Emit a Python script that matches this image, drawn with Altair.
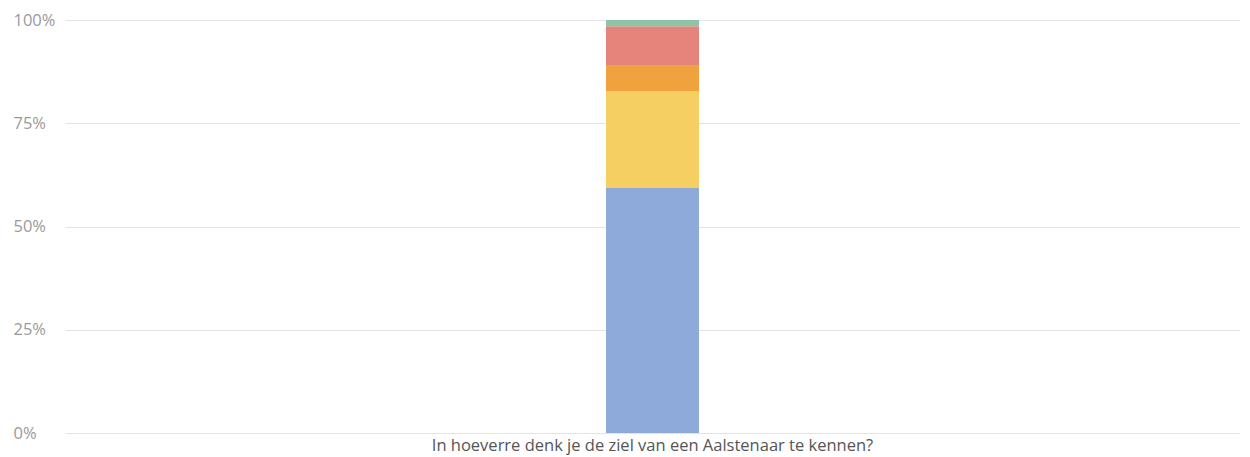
import altair as alt
import pandas as pd

question = "In hoeverre denk je de ziel van een Aalstenaar te kennen?"
answers = ["Antwoord 1", "Antwoord 2", "Antwoord 3", "Antwoord 4", "Antwoord 5"]
shares = [0.593, 0.235, 0.063, 0.094, 0.015]
colors = ["#8eaadb", "#f6cf63", "#f0a23f", "#e5847a", "#8fc3a5"]

df = pd.DataFrame({
    "vraag": [question] * len(answers),
    "antwoord": answers,
    "aandeel": shares,
    "volgorde": list(range(len(answers))),
})

chart = alt.Chart(df).mark_bar(size=93).encode(
    x=alt.X("vraag:N", title=None,
            axis=alt.Axis(labelAngle=0, ticks=False, domain=False, labelPadding=4, labelLimit=0,
                          labelColor="#555555", labelFontSize=16.5, labelFont="Open Sans")),
    y=alt.Y("aandeel:Q", stack="zero", title=None,
            scale=alt.Scale(domain=[0, 1], nice=False),
            axis=alt.Axis(values=[0, 0.25, 0.5, 0.75, 1], format=".0%", ticks=False, domain=False,
                          labelAlign="left", labelPadding=52, labelColor="#9a9a9a",
                          labelFontSize=16.5, labelFont="Open Sans", gridColor="#e3e3e3")),
    color=alt.Color("antwoord:N", scale=alt.Scale(domain=answers, range=colors), legend=None),
    order=alt.Order("volgorde:Q"),
).properties(
    width=1175, height=413,
    autosize=alt.AutoSizeParams(type="none"),
    padding={"left": 65, "top": 20, "right": 10, "bottom": 24},
).configure_view(stroke=None)

chart.save("out.html", embed_options={"renderer": "svg", "actions": False})
